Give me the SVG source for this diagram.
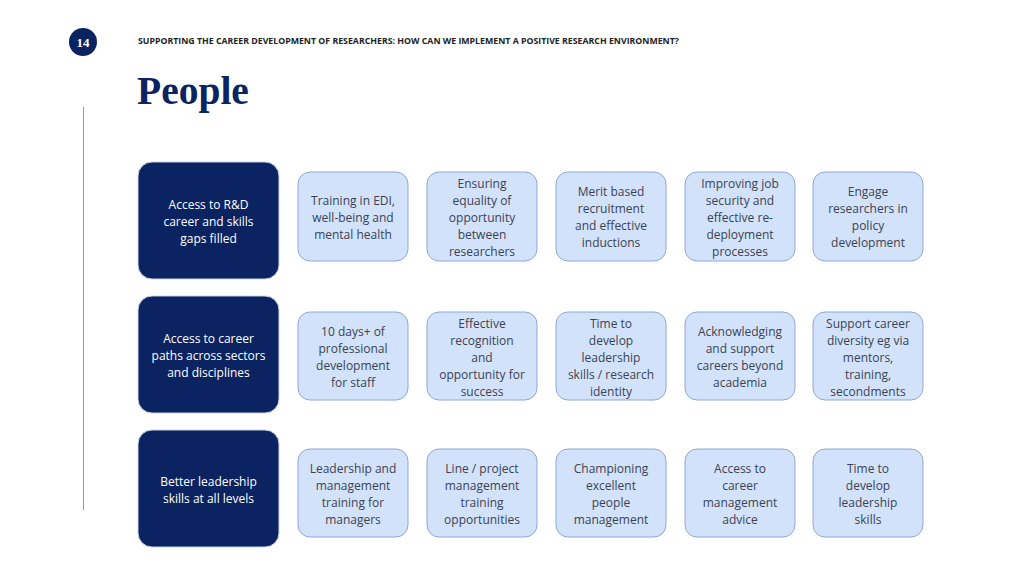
<svg xmlns="http://www.w3.org/2000/svg" width="1024" height="576" viewBox="0 0 1024 576">
<style>
.d{fill:#0b2360;stroke:#c8d2e6;stroke-width:1}
.l{fill:#d2e2fb;stroke:#8ea8d2;stroke-width:1}
text{font-family:"Open Sans","Liberation Sans",Arial,sans-serif;font-size:12px;text-anchor:middle}
.dt{fill:#ffffff}
.lt{fill:#3a4252}
</style>
<rect width="1024" height="576" fill="#ffffff"/>
<circle cx="83" cy="42" r="14" fill="#0b2360"/>
<text x="83" y="47" style="font-family:'Liberation Serif',serif;font-weight:bold;font-size:13px" fill="#fff">14</text>
<text x="138" y="44" textLength="541" lengthAdjust="spacingAndGlyphs" style="font-family:'Open Sans',sans-serif;font-weight:bold;font-size:8.2px;text-anchor:start" fill="#222">SUPPORTING THE CAREER DEVELOPMENT OF RESEARCHERS: HOW CAN WE IMPLEMENT A POSITIVE RESEARCH ENVIRONMENT?</text>
<text x="137" y="104" style="font-family:'Liberation Serif',serif;font-weight:bold;font-size:39.5px;text-anchor:start" fill="#0b2360">People</text>
<line x1="83.5" y1="107" x2="83.5" y2="510" stroke="#999" stroke-width="1"/>
<g id="connectors"/>
<g id="r1">
<g id="d1"><rect class="d" x="138" y="162" width="141" height="117" rx="14"/><text class="dt"><tspan x="208.5" y="208.5">Access to R&amp;D</tspan><tspan x="208.5" y="225.5">career and skills</tspan><tspan x="208.5" y="242.5">gaps filled</tspan></text></g>
<g id="n11"><rect class="l" x="298" y="172" width="110" height="89" rx="12"/><text class="lt"><tspan x="353" y="204.5">Training in EDI,</tspan><tspan x="353" y="221.5">well-being and</tspan><tspan x="353" y="238.5">mental health</tspan></text></g>
<g id="n12"><rect class="l" x="427" y="172" width="110" height="89" rx="12"/><text class="lt"><tspan x="482" y="187.5">Ensuring</tspan><tspan x="482" y="204.5">equality of</tspan><tspan x="482" y="221.5">opportunity</tspan><tspan x="482" y="238.5">between</tspan><tspan x="482" y="255.5">researchers</tspan></text></g>
<g id="n13"><rect class="l" x="556" y="172" width="110" height="89" rx="12"/><text class="lt"><tspan x="611" y="195.5">Merit based</tspan><tspan x="611" y="212.5">recruitment</tspan><tspan x="611" y="229.5">and effective</tspan><tspan x="611" y="246.5">inductions</tspan></text></g>
<g id="n14"><rect class="l" x="685" y="172" width="110" height="89" rx="12"/><text class="lt"><tspan x="740" y="187.5">Improving job</tspan><tspan x="740" y="204.5">security and</tspan><tspan x="740" y="221.5">effective re-</tspan><tspan x="740" y="238.5">deployment</tspan><tspan x="740" y="255.5">processes</tspan></text></g>
<g id="n15"><rect class="l" x="813" y="172" width="110" height="89" rx="12"/><text class="lt"><tspan x="868" y="195.5">Engage</tspan><tspan x="868" y="212.5">researchers in</tspan><tspan x="868" y="229.5">policy</tspan><tspan x="868" y="246.5">development</tspan></text></g>
</g>
<g id="r2">
<g id="d2"><rect class="d" x="138" y="296" width="141" height="117" rx="14"/><text class="dt"><tspan x="208.5" y="342.5">Access to career</tspan><tspan x="208.5" y="359.5">paths across sectors</tspan><tspan x="208.5" y="376.5">and disciplines</tspan></text></g>
<g id="n21"><rect class="l" x="298" y="312" width="110" height="88" rx="12"/><text class="lt"><tspan x="353" y="335.5">10 days+ of</tspan><tspan x="353" y="352.5">professional</tspan><tspan x="353" y="369.5">development</tspan><tspan x="353" y="386.5">for staff</tspan></text></g>
<g id="n22"><rect class="l" x="427" y="312" width="110" height="88" rx="12"/><text class="lt"><tspan x="482" y="327.5">Effective</tspan><tspan x="482" y="344.5">recognition</tspan><tspan x="482" y="361.5">and</tspan><tspan x="482" y="378.5">opportunity for</tspan><tspan x="482" y="395.5">success</tspan></text></g>
<g id="n23"><rect class="l" x="556" y="312" width="110" height="88" rx="12"/><text class="lt"><tspan x="611" y="327.5">Time to</tspan><tspan x="611" y="344.5">develop</tspan><tspan x="611" y="361.5">leadership</tspan><tspan x="611" y="378.5">skills / research</tspan><tspan x="611" y="395.5">identity</tspan></text></g>
<g id="n24"><rect class="l" x="685" y="312" width="110" height="88" rx="12"/><text class="lt"><tspan x="740" y="335.5">Acknowledging</tspan><tspan x="740" y="352.5">and support</tspan><tspan x="740" y="369.5">careers beyond</tspan><tspan x="740" y="386.5">academia</tspan></text></g>
<g id="n25"><rect class="l" x="813" y="312" width="110" height="88" rx="12"/><text class="lt"><tspan x="868" y="327.5">Support career</tspan><tspan x="868" y="344.5">diversity eg via</tspan><tspan x="868" y="361.5">mentors,</tspan><tspan x="868" y="378.5">training,</tspan><tspan x="868" y="395.5">secondments</tspan></text></g>
</g>
<g id="r3">
<g id="d3"><rect class="d" x="138" y="430" width="141" height="117" rx="14"/><text class="dt"><tspan x="208.5" y="485.5">Better leadership</tspan><tspan x="208.5" y="502.5">skills at all levels</tspan></text></g>
<g id="n31"><rect class="l" x="298" y="449" width="110" height="88" rx="12"/><text class="lt"><tspan x="353" y="472.5">Leadership and</tspan><tspan x="353" y="489.5">management</tspan><tspan x="353" y="506.5">training for</tspan><tspan x="353" y="523.5">managers</tspan></text></g>
<g id="n32"><rect class="l" x="427" y="449" width="110" height="88" rx="12"/><text class="lt"><tspan x="482" y="472.5">Line / project</tspan><tspan x="482" y="489.5">management</tspan><tspan x="482" y="506.5">training</tspan><tspan x="482" y="523.5">opportunities</tspan></text></g>
<g id="n33"><rect class="l" x="556" y="449" width="110" height="88" rx="12"/><text class="lt"><tspan x="611" y="472.5">Championing</tspan><tspan x="611" y="489.5">excellent</tspan><tspan x="611" y="506.5">people</tspan><tspan x="611" y="523.5">management</tspan></text></g>
<g id="n34"><rect class="l" x="685" y="449" width="110" height="88" rx="12"/><text class="lt"><tspan x="740" y="472.5">Access to</tspan><tspan x="740" y="489.5">career</tspan><tspan x="740" y="506.5">management</tspan><tspan x="740" y="523.5">advice</tspan></text></g>
<g id="n35"><rect class="l" x="813" y="449" width="110" height="88" rx="12"/><text class="lt"><tspan x="868" y="472.5">Time to</tspan><tspan x="868" y="489.5">develop</tspan><tspan x="868" y="506.5">leadership</tspan><tspan x="868" y="523.5">skills</tspan></text></g>
</g>
</svg>
